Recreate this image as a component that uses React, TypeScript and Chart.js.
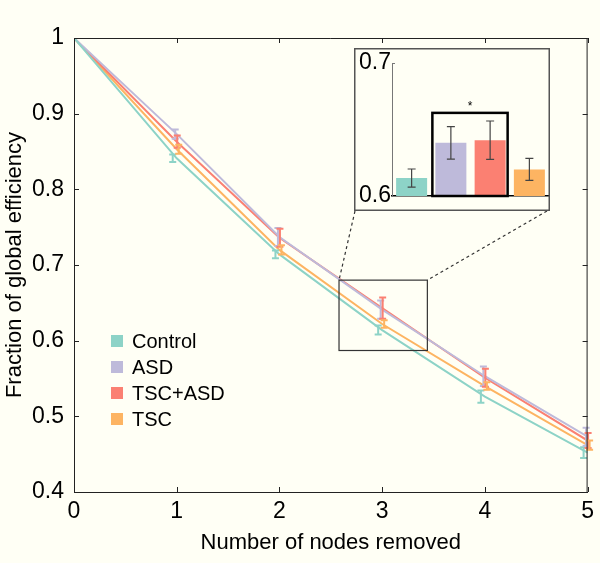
import React, { useEffect, useRef } from "react";
import { Chart, registerables } from "chart.js";
Chart.register(...registerables);

const FONT = "'Liberation Sans', Arial, Helvetica, sans-serif";
Chart.defaults.font.family = FONT;

// ---- data ----
const xValues = [0, 1, 2, 3, 4, 5];
const seriesNames = ["Control", "ASD", "TSC+ASD", "TSC"];
const controlMean = [1, 0.841, 0.714, 0.614, 0.526, 0.452];
const controlErr = [0, 0.005, 0.005, 0.006, 0.008, 0.007];
const asdMean = [1, 0.873, 0.737, 0.641, 0.553, 0.473];
const asdErr = [0, 0.006, 0.012, 0.012, 0.013, 0.012];
const tscAsdMean = [1, 0.863, 0.736, 0.643, 0.551, 0.468];
const tscAsdErr = [0, 0.008, 0.012, 0.014, 0.012, 0.010];
const tscMean = [1, 0.853, 0.720, 0.622, 0.540, 0.462];
const tscErr = [0, 0.006, 0.006, 0.005, 0.005, 0.006];

const insetCategories = ["Control", "ASD", "TSC+ASD", "TSC"];
const insetMeans = [0.6135, 0.640, 0.642, 0.620];
const insetErrors = [0.0068, 0.0122, 0.0144, 0.0083];
const bracketTop = 0.6625;

const zoomBoxX = [2.58, 3.44];
const zoomBoxY = [0.587, 0.68];

// ---- styles ----
const BG = "#fffff5";
const colors = ["#8dd3c7", "#bebada", "#fb8072", "#fdb462"];
const errOffsets = [-4, -1.5, 0.5, 2];
const AX = "#222";
const INSET = { left: 354, top: 48, width: 196, height: 163 };

const fmtY = (v: number) => (Math.abs(v - 1) < 1e-9 ? "1" : Number(v).toFixed(1));

function MainChart() {
  const ref = useRef<HTMLCanvasElement>(null);
  useEffect(() => {
    const canvas = ref.current!;
    const means = [controlMean, asdMean, tscAsdMean, tscMean];
    const errs = [controlErr, asdErr, tscAsdErr, tscErr];

    const overlay = {
      id: "overlay",
      afterDatasetsDraw(chart: any) {
        const ctx = chart.ctx;
        const xs = chart.scales.x;
        const ys = chart.scales.y;
        ctx.save();
        for (let k = 0; k < means.length; k++) {
          ctx.strokeStyle = colors[k];
          ctx.lineWidth = 2;
          for (let i = 0; i < xValues.length; i++) {
            if (errs[k][i] <= 0) continue;
            const x = xs.getPixelForValue(xValues[i]) + errOffsets[k];
            const y1 = ys.getPixelForValue(means[k][i] + errs[k][i]);
            const y2 = ys.getPixelForValue(means[k][i] - errs[k][i]);
            ctx.beginPath();
            ctx.moveTo(x, y1);
            ctx.lineTo(x, y2);
            ctx.moveTo(x - 3.5, y1);
            ctx.lineTo(x + 3.5, y1);
            ctx.moveTo(x - 3.5, y2);
            ctx.lineTo(x + 3.5, y2);
            ctx.stroke();
          }
        }
        ctx.restore();
      },
      afterDraw(chart: any) {
        const ctx = chart.ctx;
        const { left, right, top, bottom } = chart.chartArea;
        const xs = chart.scales.x;
        const ys = chart.scales.y;
        ctx.save();
        ctx.strokeStyle = AX;
        ctx.lineWidth = 1;
        ctx.beginPath();
        ctx.moveTo(left, top + 0.5);
        ctx.lineTo(right, top + 0.5);
        ctx.moveTo(right - 0.5, top);
        ctx.lineTo(right - 0.5, bottom);
        ctx.stroke();
        const tl = 5;
        ctx.beginPath();
        xs.ticks.forEach((t: any) => {
          const x = Math.round(xs.getPixelForValue(t.value)) + 0.5;
          ctx.moveTo(x, bottom);
          ctx.lineTo(x, bottom - tl);
          ctx.moveTo(x, top);
          ctx.lineTo(x, top + tl);
        });
        ys.ticks.forEach((t: any) => {
          const y = Math.round(ys.getPixelForValue(t.value)) + 0.5;
          ctx.moveTo(left, y);
          ctx.lineTo(left + tl, y);
          ctx.moveTo(right, y);
          ctx.lineTo(right - tl, y);
        });
        ctx.stroke();
        const rx1 = xs.getPixelForValue(zoomBoxX[0]);
        const rx2 = xs.getPixelForValue(zoomBoxX[1]);
        const ry1 = ys.getPixelForValue(zoomBoxY[1]);
        const ry2 = ys.getPixelForValue(zoomBoxY[0]);
        ctx.strokeStyle = "#333";
        ctx.lineWidth = 1.2;
        ctx.strokeRect(rx1, ry1, rx2 - rx1, ry2 - ry1);
        ctx.setLineDash([3, 3]);
        ctx.beginPath();
        ctx.moveTo(INSET.left + 1, INSET.top + INSET.height);
        ctx.lineTo(rx1, ry1);
        ctx.moveTo(INSET.left + INSET.width - 3, INSET.top + INSET.height);
        ctx.lineTo(rx2, ry1);
        ctx.stroke();
        ctx.setLineDash([]);
        ctx.font = `20px ${FONT}`;
        ctx.textBaseline = "middle";
        ctx.textAlign = "left";
        seriesNames.forEach((name, k) => {
          const cy = 341 + k * 26;
          ctx.fillStyle = colors[k];
          ctx.fillRect(111, cy - 6, 12, 12);
          ctx.fillStyle = "#000";
          ctx.fillText(name, 132, cy + 1);
        });
        ctx.restore();
      },
    };

    const chart = new Chart(canvas, {
      type: "line",
      data: {
        datasets: seriesNames.map((name, k) => ({
          label: name,
          data: xValues.map((x, i) => ({ x, y: means[k][i] })),
          borderColor: colors[k],
          backgroundColor: colors[k],
          borderWidth: 2,
          pointRadius: 0,
          tension: 0,
        })),
      },
      options: {
        responsive: false,
        animation: false,
        layout: { padding: { left: 0, top: 38, right: 9, bottom: 0 } },
        plugins: { legend: { display: false }, tooltip: { enabled: false } },
        scales: {
          x: {
            type: "linear",
            min: 0,
            max: 5,
            afterFit: (s: any) => {
              s.height = 71;
            },
            grid: { display: false, drawTicks: false },
            border: { display: true, color: AX, width: 1 },
            ticks: { stepSize: 1, padding: 6, color: "#000", font: { size: 23 }, maxRotation: 0, autoSkip: false },
            title: {
              display: true,
              text: "Number of nodes removed",
              color: "#000",
              font: { size: 22 },
              padding: { top: 0, bottom: 7 },
            },
          },
          y: {
            min: 0.4,
            max: 1,
            afterFit: (s: any) => {
              s.width = 74;
            },
            grid: { display: false, drawTicks: false },
            border: { display: true, color: AX, width: 1 },
            ticks: {
              stepSize: 0.1,
              padding: 10,
              color: "#000",
              font: { size: 23 },
              callback: (v: any) => fmtY(Number(v)),
            },
            title: {
              display: true,
              text: "Fraction of global efficiency",
              color: "#000",
              font: { size: 22 },
              padding: { top: 2, bottom: 0 },
            },
          },
        },
      },
      plugins: [overlay],
    } as any);
    return () => chart.destroy();
  }, []);
  return (
    <canvas
      ref={ref}
      width={600}
      height={563}
      style={{ position: "absolute", left: 0, top: 0, width: 600, height: 563 }}
    />
  );
}

function InsetChart() {
  const ref = useRef<HTMLCanvasElement>(null);
  useEffect(() => {
    const canvas = ref.current!;
    const insetPlugin = {
      id: "insetDeco",
      afterDraw(chart: any) {
        const ctx = chart.ctx;
        const ys = chart.scales.y;
        const meta = chart.getDatasetMeta(0);
        const { left, top } = chart.chartArea;
        ctx.save();
        ctx.strokeStyle = "#444";
        ctx.lineWidth = 1.2;
        meta.data.forEach((bar: any, i: number) => {
          const x = bar.x;
          const y1 = ys.getPixelForValue(insetMeans[i] + insetErrors[i]);
          const y2 = ys.getPixelForValue(insetMeans[i] - insetErrors[i]);
          ctx.beginPath();
          ctx.moveTo(x, y1);
          ctx.lineTo(x, y2);
          ctx.moveTo(x - 4, y1);
          ctx.lineTo(x + 4, y1);
          ctx.moveTo(x - 4, y2);
          ctx.lineTo(x + 4, y2);
          ctx.stroke();
        });
        const b1 = meta.data[1];
        const b2 = meta.data[2];
        const bx1 = b1.x - b1.width / 2 - 3;
        const bx2 = b2.x + b2.width / 2 + 2;
        const by1 = ys.getPixelForValue(bracketTop);
        const by2 = ys.getPixelForValue(0.6);
        ctx.strokeStyle = "#000";
        ctx.lineWidth = 2.5;
        ctx.strokeRect(bx1, by1, bx2 - bx1, by2 - by1);
        ctx.fillStyle = "#000";
        ctx.font = `12px ${FONT}`;
        ctx.textAlign = "center";
        ctx.textBaseline = "middle";
        ctx.fillText("*", (bx1 + bx2) / 2, by1 - 6);
        ctx.strokeStyle = "#777";
        ctx.lineWidth = 1;
        ctx.beginPath();
        ctx.moveTo(left, top + 0.5);
        ctx.lineTo(left + 3, top + 0.5);
        ctx.stroke();
        ctx.strokeStyle = "#555";
        ctx.lineWidth = 1.5;
        ctx.strokeRect(0.75, 0.75, chart.width - 1.5, chart.height - 1.5);
        ctx.restore();
      },
    };
    const chart = new Chart(canvas, {
      type: "bar",
      data: {
        labels: insetCategories,
        datasets: [
          {
            data: insetMeans,
            backgroundColor: colors,
            borderWidth: 0,
            barPercentage: 0.79,
            categoryPercentage: 1,
          },
        ],
      },
      options: {
        responsive: false,
        animation: false,
        layout: { padding: { left: 0, top: 15, right: 1, bottom: 0 } },
        plugins: { legend: { display: false }, tooltip: { enabled: false } },
        scales: {
          x: {
            afterFit: (s: any) => {
              s.height = 15;
            },
            ticks: { display: false },
            grid: { display: false, drawTicks: false },
            border: { display: true, color: "#000", width: 1.5 },
          },
          y: {
            min: 0.6,
            max: 0.7,
            afterFit: (s: any) => {
              s.width = 38;
            },
            grid: { display: false, drawTicks: false },
            border: { display: true, color: "#777", width: 1 },
            ticks: {
              stepSize: 0.1,
              padding: 1,
              color: "#000",
              font: { size: 23 },
              callback: (v: any) => Number(v).toFixed(1),
            },
          },
        },
      },
      plugins: [insetPlugin],
    } as any);
    return () => chart.destroy();
  }, []);
  return (
    <canvas
      ref={ref}
      width={INSET.width}
      height={INSET.height}
      style={{
        position: "absolute",
        left: INSET.left,
        top: INSET.top,
        width: INSET.width,
        height: INSET.height,
        background: BG,
      }}
    />
  );
}

export default function App() {
  return (
    <div style={{ position: "fixed", left: 0, top: 0, width: 600, height: 563, background: BG, overflow: "hidden" }}>
      <MainChart />
      <InsetChart />
    </div>
  );
}
